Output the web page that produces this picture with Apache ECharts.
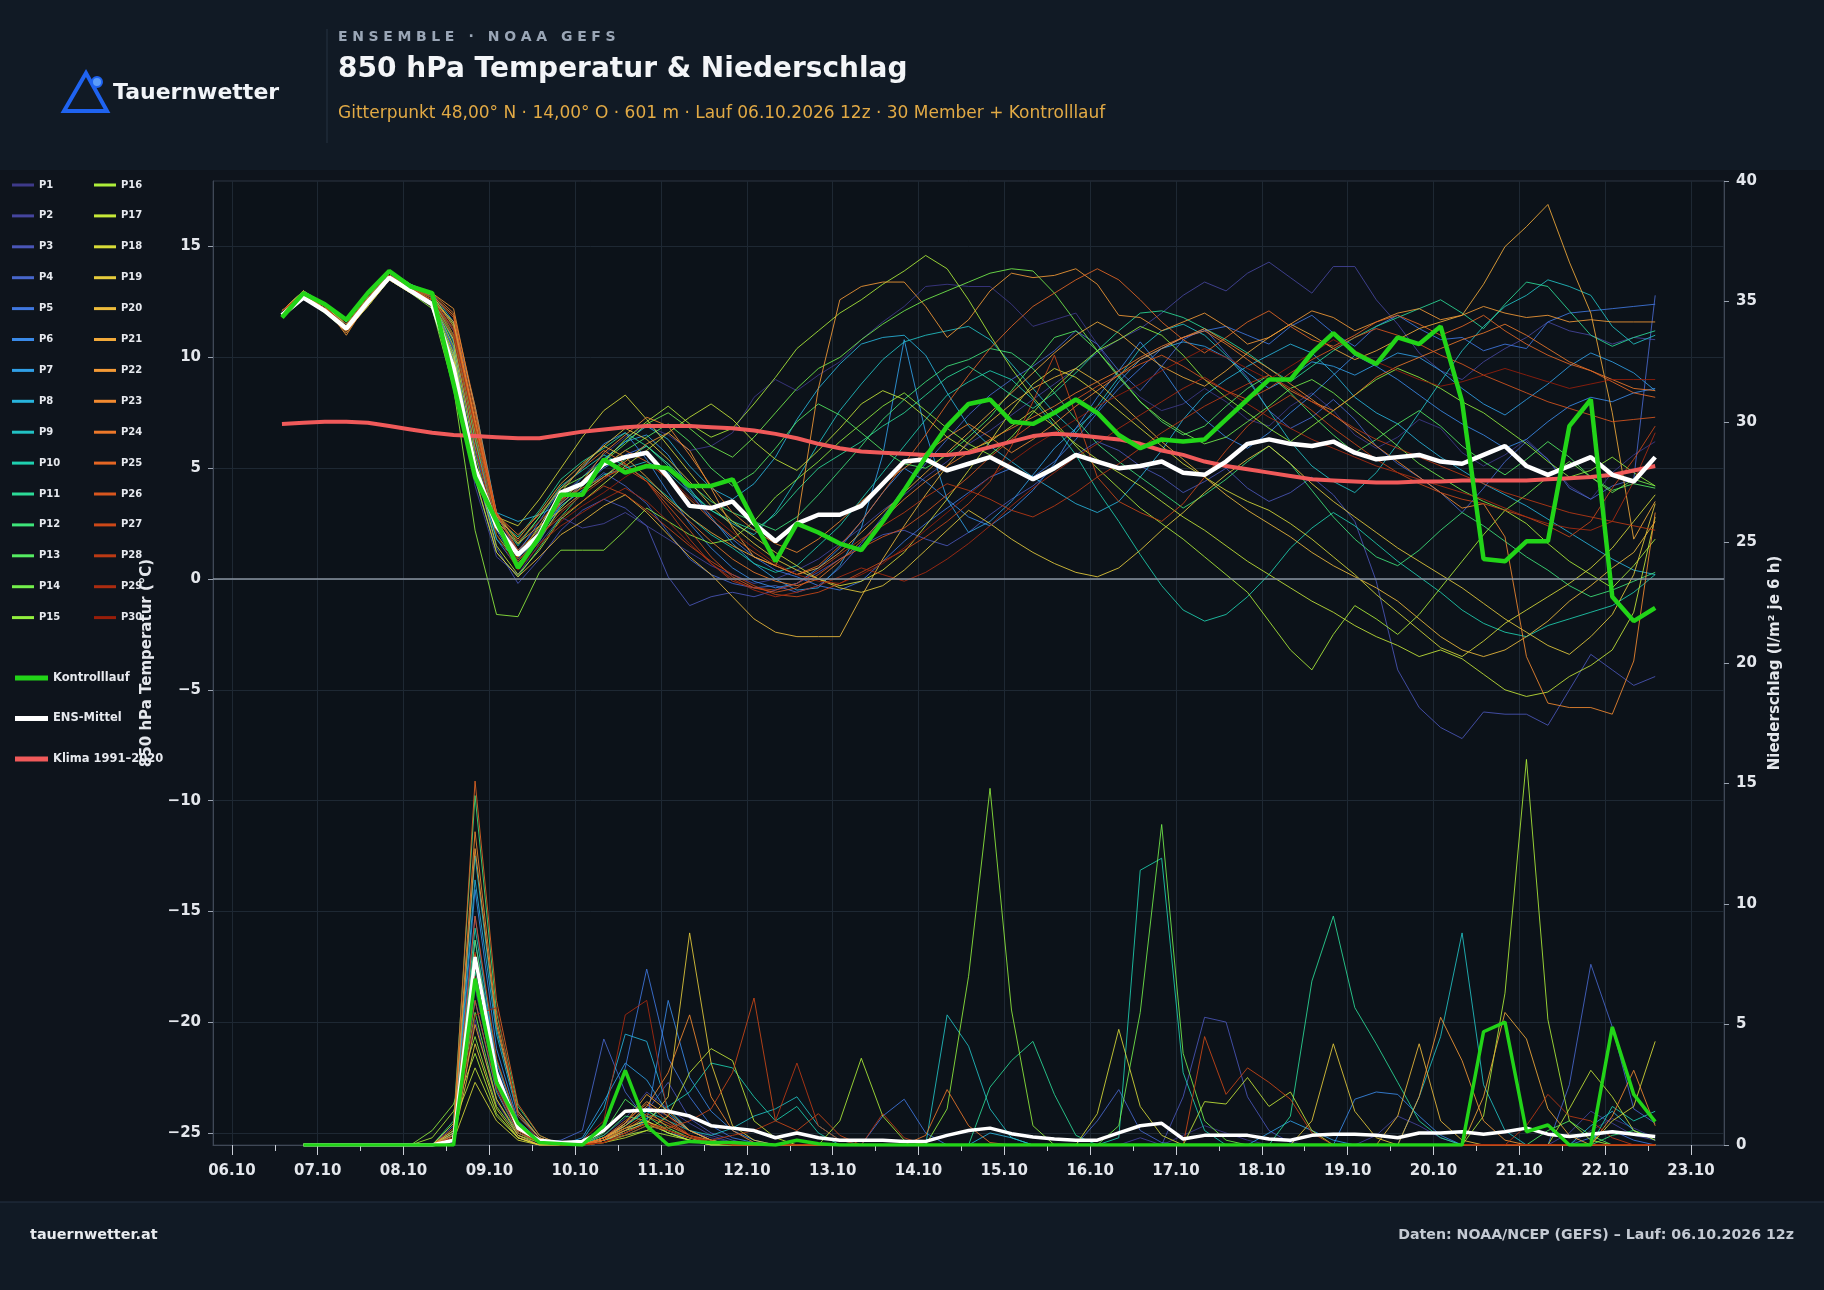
<!DOCTYPE html>
<html><head><meta charset="utf-8">
<script src="https://cdn.jsdelivr.net/npm/echarts@6/dist/echarts.min.js"></script>
<style>html,body{margin:0;padding:0;background:#0e141c;}#chart{width:1824px;height:1290px;}</style>
</head><body><div id="chart"></div>
<script>
// ---------- axes / labels ----------
const dayTicks = [0,1,2,3,4,5,6,7,8,9,10,11,12,13,14,15,16,17];
const dayLabels = ['06.10','07.10','08.10','09.10','10.10','11.10','12.10','13.10','14.10','15.10','16.10','17.10','18.10','19.10','20.10','21.10','22.10','23.10'];
const halfDayTicks = [0,0.5,1,1.5,2,2.5,3,3.5,4,4.5,5,5.5,6,6.5,7,7.5,8,8.5,9,9.5,10,10.5,11,11.5,12,12.5,13,13.5,14,14.5,15,15.5,16,16.5,17];
const tempTicks = [-25,-20,-15,-10,-5,0,5,10,15];
const memberNames = ['P1','P2','P3','P4','P5','P6','P7','P8','P9','P10','P11','P12','P13','P14','P15','P16','P17','P18','P19','P20','P21','P22','P23','P24','P25','P26','P27','P28','P29','P30'];
const memberColors = ['#3e3a8a','#45459e','#4a56b8','#4867cc','#4078e0','#3a8ae8','#309fe6','#28b4dc','#22c2c4','#1fd0b0','#2cdb98','#3ee47a','#55ec62','#74f04c','#92f03e','#aeee3a','#c6e838','#d8dc38','#e6cc3c','#eebc3c','#f2aa3a','#f49a36','#f28a30','#ec782a','#e46624','#d8561e','#cc4818','#bc3a14','#ac2c10','#981e0a'];
// time grid: 6-hourly steps from 06.10 14:00 (12z), in days since 06.10 00:00
const firstStepDay = 14/24;
const stepDays = 0.25;
const nSteps = 65;

// ---------- control, mean, climate ----------
const ctrlTemp = [11.8,12.9,12.4,11.7,12.9,13.9,13.2,12.9,8.8,4.6,2.6,0.5,1.9,
 3.8,3.8,5.4,4.8,5.1,5.0,4.2,4.2,4.5,2.6,0.8,2.5,2.1,
 1.6,1.3,2.6,4.0,5.5,6.9,7.9,8.1,7.1,7.0,7.5,8.1,7.5,
 6.5,5.9,6.3,6.2,6.3,7.2,8.1,9.0,9.0,10.2,11.1,10.2,9.7,
 10.9,10.6,11.4,8.0,0.9,0.8,1.7,1.7,6.9,8.1,-0.8,-1.9,-1.3];
const meanTemp = [11.9,12.7,12.1,11.3,12.5,13.6,13.0,12.4,9.5,5.0,2.4,1.1,2.0,
 3.9,4.3,5.2,5.5,5.7,4.6,3.3,3.2,3.5,2.5,1.7,2.5,2.9,
 2.9,3.3,4.3,5.3,5.4,4.9,5.2,5.5,5.0,4.5,5.0,5.6,5.3,
 5.0,5.1,5.3,4.8,4.7,5.3,6.1,6.3,6.1,6.0,6.2,5.7,5.4,
 5.5,5.6,5.3,5.2,5.6,6.0,5.1,4.7,5.1,5.5,4.7,4.4,5.5];
const climTemp = [7.0,7.05,7.1,7.1,7.05,6.9,6.75,6.6,6.5,6.45,6.4,6.35,6.35,
 6.5,6.65,6.75,6.85,6.9,6.9,6.9,6.85,6.8,6.7,6.55,6.35,6.1,
 5.9,5.75,5.7,5.65,5.6,5.6,5.7,5.95,6.2,6.45,6.55,6.5,6.4,
 6.3,6.1,5.8,5.6,5.3,5.1,4.95,4.8,4.65,4.5,4.45,4.4,4.35,
 4.35,4.4,4.4,4.45,4.45,4.45,4.45,4.5,4.55,4.6,4.7,4.9,5.1];
const ctrlPrec = [null,0,0,0,0,0,0,0,0,6.9,2.6,0.9,0.1,
 0.05,0,0.8,3.1,0.8,0,0.15,0.1,0.1,0.05,0,0.2,0.05,
 0,0,0,0,0,0,0,0,0,0,0,0,0,
 0,0,0,0,0,0,0,0,0,0,0,0,0,
 0,0,0,0,4.7,5.1,0.55,0.83,0,0,4.9,2.1,0.97];
const meanPrec = [null,0,0,0,0,0,0,0,0.2,7.8,3.0,0.7,0.2,
 0.1,0.15,0.6,1.4,1.45,1.4,1.2,0.8,0.7,0.6,0.3,0.5,0.3,
 0.2,0.2,0.2,0.15,0.15,0.4,0.6,0.7,0.47,0.33,0.25,0.2,0.2,
 0.5,0.8,0.9,0.25,0.4,0.4,0.4,0.25,0.2,0.4,0.45,0.45,0.4,
 0.3,0.5,0.5,0.55,0.45,0.55,0.7,0.45,0.35,0.45,0.55,0.45,0.35];

// ---------- members: 850 hPa temperature ----------
const T_P1 = [11.9,12.8,12.1,11.2,12.4,13.6,13.0,12.4,10.6,6.0,2.6,1.3,2.4, 3.8,4.6,5.6,6.4,6.9,6.5,5.8,6.0,6.6,8.2,9.0,8.5,9.2, 9.8,10.8,11.6,12.3,13.2,13.3,13.2,13.2,12.4,11.4,11.7,12.0,10.6, 9.1,8.2,7.6,7.9,8.6,8.0,7.2,6.9,7.8,8.4,7.6,6.5,5.9, 6.4,7.2,6.8,5.7,5.1,5.6,6.3,5.4,4.2,3.6,4.8,5.6,6.2];
const T_P2 = [12.1,12.9,12.3,11.4,12.7,13.8,13.1,12.5,10.0,4.2,1.0,0.2,1.6, 2.8,2.3,2.5,3.0,2.4,1.8,1.2,0.6,0.2,-0.2,0.0,0.4,0.9, 1.6,2.3,3.1,3.8,4.6,5.3,6.1,6.7,7.4,8.1,8.8,9.5,10.2, 10.8,11.3,12.0,12.8,13.4,13.0,13.8,14.3,13.6,12.9,14.1,14.1,12.6, 11.5,10.2,9.4,9.0,9.8,10.4,10.9,11.6,11.2,11.0,10.6,10.9,10.8];
const T_P3 = [12.0,12.8,12.2,11.3,12.5,13.7,13.1,12.6,10.3,5.0,1.4,-0.2,0.9, 2.2,3.1,3.6,3.2,2.4,0.1,-1.2,-0.8,-0.6,-0.8,-0.5,-0.2,0.3, 0.9,1.5,2.0,2.2,1.8,1.5,2.1,2.9,3.6,4.2,5.0,5.6,6.2, 5.8,5.1,4.6,3.9,4.4,5.0,4.1,3.5,3.9,4.6,3.8,2.6,-0.1, -4.1,-5.8,-6.7,-7.2,-6.0,-6.1,-6.1,-6.6,-5.0,-3.4,-4.1,-4.8,-4.4];
const T_P4 = [12.1,12.9,12.4,11.5,12.6,13.8,13.2,12.7,10.8,5.8,2.2,0.6,1.7, 3.3,4.0,4.8,4.2,3.4,2.1,0.9,0.2,-0.2,-0.4,-0.3,-0.6,-0.3, 0.5,1.6,2.8,4.1,5.2,6.3,7.4,8.3,9.0,9.6,10.3,11.2,10.6, 9.4,8.5,9.6,10.8,11.3,10.2,9.1,7.6,6.8,7.3,8.1,7.2,6.0, 5.2,4.6,3.9,3.0,4.1,5.3,6.2,5.4,4.1,3.6,4.2,4.5,12.8];
const T_P5 = [11.9,12.8,12.2,11.3,12.4,13.6,13.1,12.5,10.4,5.2,1.8,0.5,1.9, 3.4,4.2,5.0,5.6,6.0,5.2,3.9,2.7,1.8,1.0,0.4,0.1,-0.3, -0.5,-0.1,0.8,1.7,2.5,3.2,3.9,4.6,5.0,4.6,5.3,6.3,7.5, 8.6,9.5,10.4,10.9,11.2,11.4,11.0,10.6,11.4,11.9,11.1,10.5,11.4, 11.9,11.3,10.8,10.9,10.3,10.6,10.4,11.6,12.0,12.1,12.2,12.3,12.4];
const T_P6 = [12.0,12.9,12.3,11.5,12.6,13.7,13.2,12.7,11.2,6.6,2.9,1.2,2.6, 4.1,5.0,6.1,6.6,5.4,3.9,2.5,1.4,0.5,-0.1,-0.4,-0.2,0.5, 1.4,2.6,3.9,5.0,4.4,3.6,2.8,2.4,3.1,4.0,5.2,6.8,8.2, 9.4,10.7,9.5,8.1,7.2,6.4,5.9,6.6,7.5,8.3,9.2,10.1,9.6, 9.0,8.3,7.6,7.0,6.5,5.9,6.3,7.1,7.8,8.2,8.0,8.4,8.6];
const T_P7 = [12.0,12.8,12.2,11.3,12.5,13.6,13.0,12.5,10.9,6.2,2.5,0.9,2.2, 3.6,4.6,5.4,6.2,6.5,5.6,4.1,2.8,1.6,0.7,0.0,-0.5,-0.4, 0.6,2.3,5.6,10.8,6.6,3.6,2.1,2.6,3.5,4.7,5.9,6.8,7.6, 8.9,9.9,10.4,10.7,10.5,10.0,9.3,8.6,9.1,9.8,9.6,9.2,9.7, 10.2,10.0,9.4,8.6,7.9,7.4,8.1,8.8,9.6,10.2,9.8,9.3,8.5];
const T_P8 = [12.1,13.0,12.4,11.6,12.8,13.9,13.3,12.9,11.6,7.8,3.0,2.6,2.9, 3.4,4.3,5.4,6.2,6.9,6.3,5.1,4.1,3.6,4.3,5.5,7.2,8.6, 9.7,10.6,10.9,11.0,10.1,8.4,6.9,6.0,5.3,4.6,4.0,3.4,3.0, 3.5,4.6,5.8,7.2,8.3,9.0,9.6,10.1,10.6,10.2,9.3,8.2,7.5, 7.0,6.2,5.5,4.9,4.3,3.8,3.3,2.7,2.1,1.5,0.9,0.4,0.2];
const T_P9 = [11.9,12.8,12.1,11.3,12.4,13.6,13.0,12.4,10.1,5.0,1.8,0.8,2.0, 3.3,4.0,4.7,5.0,5.3,4.8,3.9,3.1,2.5,2.0,3.0,4.5,6.1, 7.6,8.8,9.9,10.7,11.0,11.2,11.4,10.8,9.7,8.6,7.5,6.6,7.8, 9.1,10.4,11.2,11.5,11.0,10.1,9.0,7.6,6.2,5.1,4.4,3.9,4.8, 6.1,7.5,8.9,10.3,11.4,12.3,12.8,13.5,13.2,12.8,11.4,10.6,11.0];
const T_P10 = [12.0,12.9,12.3,11.4,12.6,13.7,13.1,12.6,10.7,6.4,2.8,1.5,2.8, 4.2,4.9,5.6,5.1,4.5,3.7,2.8,2.0,1.4,0.7,0.3,0.6,1.5, 2.4,3.6,4.8,6.0,7.2,8.3,8.9,9.4,9.0,8.1,6.9,5.6,4.0, 2.6,1.1,-0.3,-1.4,-1.9,-1.6,-0.8,0.2,1.4,2.3,3.0,2.4,1.6, 0.8,0.1,-0.6,-1.4,-2.0,-2.4,-2.6,-2.1,-1.8,-1.5,-1.2,-0.6,0.2];
const T_P11 = [12.1,12.9,12.3,11.5,12.7,13.8,13.2,12.8,11.4,7.0,2.7,1.9,3.1, 4.5,5.3,5.9,6.6,6.0,5.1,4.0,3.1,2.6,2.2,2.9,4.0,5.0, 5.6,6.2,6.9,7.5,8.3,9.1,9.6,9.0,8.3,7.7,8.4,9.3,10.3, 11.2,12.0,12.1,11.8,11.3,10.8,10.2,9.5,8.9,9.6,10.3,10.9,11.4, 11.8,12.2,12.6,12.0,11.3,12.4,13.4,13.2,12.1,11.0,10.5,10.9,11.2];
const T_P12 = [11.9,12.8,12.2,11.3,12.4,13.6,13.0,12.4,9.9,4.5,1.2,0.1,1.4, 2.8,3.9,4.6,5.4,6.0,5.2,4.3,3.5,3.0,2.6,2.2,2.8,3.8, 4.9,6.0,7.2,8.1,8.9,9.6,9.9,10.4,10.2,9.5,8.4,7.2,6.1, 5.3,4.6,3.9,3.2,3.8,4.5,5.3,6.0,5.2,4.0,2.8,1.8,1.0, 0.6,1.3,2.2,3.0,2.4,1.7,1.0,0.4,-0.3,-0.8,-0.5,-0.1,0.3];
const T_P13 = [12.0,12.9,12.4,11.5,12.7,13.8,13.2,12.7,10.9,6.3,2.6,1.1,2.3, 3.6,4.4,5.1,5.8,6.4,7.0,6.2,5.0,4.2,4.8,5.9,7.1,7.9, 7.4,6.6,5.8,5.2,5.0,5.6,6.4,7.3,8.5,9.7,10.9,11.2,10.3, 9.2,8.0,7.1,6.5,6.9,7.8,8.6,9.2,8.4,7.4,6.5,5.7,6.3, 7.0,7.6,6.9,6.0,5.3,4.7,5.4,6.2,5.5,4.6,4.0,4.3,4.1];
const T_P14 = [12.1,13.0,12.4,11.6,12.8,13.9,13.3,12.8,11.0,6.6,3.0,1.6,2.8, 4.1,4.6,5.3,6.1,7.0,7.5,6.8,6.0,5.5,6.4,7.5,8.6,9.5, 10.0,10.8,11.5,12.1,12.6,13.0,13.4,13.8,14.0,13.9,12.9,11.6,10.3, 9.1,8.0,7.2,6.6,6.1,6.4,7.1,7.8,8.6,9.0,8.4,7.6,6.8, 6.0,5.2,4.6,4.0,3.5,3.1,3.8,4.6,5.3,4.6,3.9,4.5,4.2];
const T_P15 = [11.8,12.7,12.0,11.2,12.3,13.5,12.9,12.2,8.6,2.2,-1.6,-1.7,0.3, 1.3,1.3,1.3,2.2,3.2,2.6,2.0,1.6,1.8,2.6,3.7,4.5,5.3, 6.2,7.0,7.8,8.4,7.6,6.8,6.1,5.6,6.4,7.5,8.6,9.5,10.3, 10.8,11.4,11.0,10.1,9.0,8.2,7.5,6.8,6.2,6.9,7.6,8.3,9.0, 9.5,9.1,8.6,8.0,7.5,6.8,6.1,5.3,4.6,4.9,5.5,4.8,4.2];
const T_P16 = [12.0,12.9,12.3,11.4,12.6,13.7,13.1,12.6,10.5,5.6,2.0,0.7,1.8, 3.2,4.2,5.3,6.3,7.1,7.8,7.0,6.4,6.8,7.9,9.1,10.4,11.2, 12.0,12.6,13.3,13.9,14.6,14.0,12.6,11.0,9.5,8.2,7.1,6.0,5.0, 4.1,3.2,2.5,1.8,1.0,0.2,-0.6,-1.9,-3.2,-4.1,-2.5,-1.2,-1.8, -2.5,-1.6,-0.4,0.8,2.0,3.1,2.5,1.6,0.8,0.2,-0.4,0.6,1.8];
const T_P17 = [11.9,12.8,12.2,11.3,12.5,13.6,13.0,12.5,10.2,5.1,1.5,0.2,1.3, 2.7,3.5,4.3,5.1,5.8,6.6,7.3,7.9,7.2,6.2,5.4,4.9,5.8, 6.8,7.9,8.5,8.1,7.3,6.4,5.8,6.2,6.9,7.6,6.9,6.1,5.4, 4.8,4.2,3.5,2.8,2.2,1.5,0.8,0.2,-0.4,-1.0,-1.5,-2.1,-2.6, -3.0,-3.5,-3.2,-3.6,-4.3,-5.0,-5.3,-5.1,-4.4,-3.9,-3.2,-1.5,2.8];
const T_P18 = [12.1,13.0,12.3,11.5,12.7,13.8,13.2,12.8,11.5,6.8,2.8,2.4,3.6, 5.0,6.4,7.6,8.3,7.2,6.0,4.8,3.6,2.6,1.9,1.2,0.6,0.0, -0.3,-0.1,0.4,1.2,2.4,3.6,4.9,6.2,7.6,8.8,9.5,9.1,8.4, 7.6,6.8,6.0,5.2,4.6,4.0,3.5,3.1,2.5,1.8,1.0,0.2,-0.7, -1.5,-2.3,-3.1,-3.5,-2.8,-2.0,-1.4,-0.8,-0.2,0.5,1.4,2.6,3.8];
const T_P19 = [12.0,12.9,12.2,11.4,12.6,13.7,13.1,12.6,10.8,6.0,2.3,1.0,2.4, 3.9,5.1,6.0,6.8,6.3,5.4,4.4,3.3,2.4,1.6,0.9,0.4,0.0, -0.4,-0.6,-0.3,0.4,1.3,2.2,3.1,2.5,1.8,1.2,0.7,0.3,0.1, 0.5,1.3,2.2,3.0,3.9,4.7,5.4,6.0,5.2,4.3,3.5,2.8,2.1, 1.4,0.8,0.2,-0.4,-1.1,-1.8,-2.4,-3.0,-3.4,-2.6,-1.6,0.2,3.4];
const T_P20 = [11.9,12.8,12.1,11.2,12.3,13.5,12.9,12.4,10.0,4.6,1.2,0.1,1.0, 2.0,2.6,3.3,3.8,3.0,2.0,1.0,0.2,-0.8,-1.8,-2.4,-2.6,-2.6, -2.6,-0.8,0.9,2.4,3.8,5.1,6.2,7.1,7.9,8.6,9.1,9.5,8.9, 8.0,7.1,6.2,5.4,4.6,3.8,3.1,2.5,1.9,1.2,0.6,0.1,-0.4, -1.0,-1.8,-2.6,-3.2,-3.5,-3.2,-2.6,-1.9,-1.0,-0.3,0.5,1.2,2.6];
const T_P21 = [12.0,12.8,12.2,11.2,12.4,13.5,13.0,12.6,11.6,7.2,2.8,1.8,3.0, 4.3,5.2,6.0,5.5,4.6,3.6,2.8,2.1,1.5,1.0,0.6,0.2,0.5, 1.2,2.1,3.0,3.9,4.8,5.7,6.6,7.5,8.4,9.3,10.2,11.0,11.6, 11.1,10.3,9.6,9.1,8.7,9.4,10.2,10.9,11.5,11.0,10.4,9.9,10.3, 10.8,11.3,11.6,11.9,13.3,15.0,15.9,16.9,14.3,12.0,7.5,1.8,3.5];
const T_P22 = [12.1,12.9,12.3,11.0,12.5,13.6,13.2,12.9,12.2,7.6,2.6,1.6,2.4, 3.1,3.9,4.6,5.3,6.1,6.6,5.8,4.1,2.3,1.0,0.6,2.5,8.6, 12.6,13.2,13.4,13.4,12.3,10.9,11.7,13.0,13.8,13.6,13.7,14.0,13.3, 11.9,11.8,11.2,11.6,12.0,11.4,10.6,10.9,11.5,12.1,11.8,11.2,11.6, 12.0,12.2,11.7,11.9,12.3,12.0,11.8,11.9,11.6,11.7,11.6,11.6,11.6];
const T_P23 = [12.0,12.8,12.2,11.1,12.4,13.5,13.1,12.8,11.9,7.0,2.7,1.0,2.1, 3.5,4.4,5.7,6.5,7.3,6.9,5.6,4.2,3.0,2.2,1.6,1.2,1.8, 2.6,3.5,4.3,5.0,5.7,6.4,7.0,6.4,5.7,6.3,7.0,7.8,8.5, 9.2,9.9,10.4,10.9,11.3,10.7,10.1,9.5,8.8,8.1,7.4,6.7,6.0, 5.3,4.6,3.9,3.2,3.4,1.9,-3.5,-5.6,-5.8,-5.8,-6.1,-3.7,3.0];
const T_P24 = [12.1,13.0,12.3,11.2,12.6,13.7,13.2,12.9,12.0,7.8,2.9,2.0,2.9, 4.1,5.0,5.8,5.2,4.4,3.5,2.6,1.7,0.9,0.3,-0.1,-0.3,0.0, 0.8,1.7,2.7,3.6,4.4,5.1,5.7,6.3,6.8,7.3,7.8,8.4,8.9, 9.4,10.0,10.5,10.9,11.2,10.6,9.9,9.2,8.5,8.0,7.6,8.3,9.1, 9.6,10.0,10.4,10.8,11.1,11.5,11.0,10.4,9.8,9.4,9.0,8.6,8.5];
const T_P25 = [12.0,12.9,12.2,11.3,12.5,13.6,13.1,12.7,11.4,7.1,3.0,1.3,2.2, 3.4,4.3,5.1,5.8,5.3,4.5,3.6,2.7,1.9,1.2,0.6,0.2,0.6, 1.5,2.6,3.9,5.2,6.5,7.9,9.2,10.4,11.4,12.3,12.9,13.5,14.0, 13.5,12.6,11.6,10.8,10.2,10.9,11.6,12.1,11.4,10.8,10.5,11.0,11.6, 11.9,11.5,11.0,11.4,11.9,11.2,10.6,10.1,9.7,9.4,8.9,8.4,8.2];
const T_P26 = [12.1,12.9,12.3,11.4,12.6,13.7,13.2,12.8,11.8,7.4,3.0,1.7,2.6, 3.6,4.1,4.6,5.0,4.4,3.3,2.2,1.0,0.1,-0.4,-0.6,-0.4,0.2, 0.9,1.4,1.9,2.3,3.0,3.8,4.6,5.5,6.3,7.0,7.6,8.1,8.7, 9.2,9.7,10.1,9.6,9.0,8.5,8.1,8.6,9.3,9.9,10.4,10.9,11.3, 11.0,10.6,10.1,9.7,9.2,8.8,8.4,8.0,7.7,7.4,7.1,7.2,7.3];
const T_P27 = [12.0,12.8,12.2,11.3,12.4,13.6,13.0,12.6,11.3,6.9,2.9,1.2,2.0, 2.8,3.5,4.2,3.8,3.1,2.3,1.5,0.8,0.2,-0.3,-0.7,-0.8,-0.6, -0.2,0.3,0.8,1.3,1.9,2.6,3.4,4.4,6.0,8.0,10.1,7.4,4.6, 3.5,3.0,2.6,3.4,4.6,5.8,6.9,7.7,8.3,7.6,6.8,6.1,5.4, 4.8,4.3,3.9,3.6,3.4,3.1,2.8,2.4,1.9,2.6,4.1,5.4,6.9];
const T_P28 = [12.1,12.9,12.4,11.5,12.7,13.8,13.2,12.7,11.0,6.5,2.4,0.8,1.9, 3.0,3.8,4.5,5.2,4.4,3.1,1.8,0.7,-0.1,-0.4,-0.5,-0.2,0.4, 1.1,1.8,2.4,3.0,3.7,4.3,4.0,3.6,3.1,2.8,3.3,3.9,4.6, 5.2,5.9,6.6,7.2,7.8,8.3,8.8,9.2,8.6,8.0,7.4,6.8,6.3, 5.9,5.5,5.1,4.7,4.3,3.9,3.6,3.3,3.0,2.8,2.6,2.4,2.2];
const T_P29 = [12.0,12.9,12.3,11.4,12.5,13.7,13.1,12.6,11.2,6.8,2.6,0.9,1.6, 2.4,3.0,3.6,4.1,3.5,2.6,1.6,0.7,0.0,-0.5,-0.8,-0.6,-0.3, 0.1,0.5,0.2,-0.1,0.3,0.9,1.6,2.4,3.3,4.1,4.8,5.5,6.1, 6.8,7.4,8.0,8.6,9.1,8.5,7.9,7.3,6.8,6.3,5.9,5.5,5.1, 4.8,4.5,4.2,3.9,3.6,3.2,2.8,2.5,2.3,2.2,2.6,4.4,6.6];
const T_P30 = [11.9,12.8,12.1,11.3,12.4,13.5,13.0,12.5,10.9,6.1,2.0,0.4,1.5, 2.6,3.3,3.9,4.6,5.2,4.6,3.7,2.9,2.1,1.4,0.7,0.2,-0.1, -0.2,0.2,0.7,1.4,2.2,3.0,3.8,4.6,5.3,6.0,6.6,7.2,7.8, 8.3,8.8,9.4,9.9,10.4,10.0,9.5,9.0,9.6,10.2,10.8,10.3,9.8, 9.4,9.0,8.7,8.9,9.2,9.5,9.2,8.9,8.6,8.8,9.0,9.0,9.0];

// ---------- members: precipitation (l/m² per 6 h) ----------
const R_P1 = [null,0,0,0,0,0,0,0,0.3,6.5,2.4,0.6,0.1, 0,0,0.2,0.8,1.6,1.2,0.6,0.3,0.1,0,0,0,0, 0,0,0,0,0,0,0,0,0,0,0,0,0, 0,0,0,0.4,0.8,0.5,0.2,0,0,0,0,0,0, 0,0,0,0,0,0,0,0,0,0.6,1.1,0.7,0.3];
const R_P2 = [null,0,0,0,0,0,0,0,0.1,5.2,1.8,0.4,0, 0,0.1,0.4,1.1,2.2,1.5,0.9,0.4,0.1,0,0,0,0, 0,0,0,0,0,0,0,0,0,0,0,0,0, 0,0.3,0,0,0,0,0,0,0,0,0,0,0.4, 1.2,0.8,0.3,0,0,0,0,0,0.5,1.4,0.9,0.4,0.2];
const R_P3 = [null,0,0,0,0,0,0,0,0.8,9.5,3.2,0.8,0.2, 0,0,0.3,0.9,1.4,2.6,1.1,0.5,0.2,0,0,0,0, 0,0,0,0,0,0,0,0,0,0,0,0,0, 0,0,0,2.0,5.3,5.1,2.0,0.6,0.1,0,0,0,0, 0,0,0,0,0,0,0,0,0,0,0,0,0];
const R_P4 = [null,0,0,0,0,0,0,0,0.2,7.9,2.9,0.7,0.1, 0.2,0.6,4.4,2.2,1.0,0.5,0.3,0.1,0,0,0,0,0, 0,0,0,0,0,0,0,0,0,0,0,0,1.0, 2.3,0.6,0.1,0,0,0,0,0,0,0,0,0,0, 0,0,0,0,0,0,0,0,2.5,7.5,4.9,1.5,0.9];
const R_P5 = [null,0,0,0,0,0,0,0,0.4,8.5,3.4,0.9,0.2, 0,0.1,0.6,3.2,7.3,3.6,2.0,0.8,0.3,0.1,0,0,0, 0,0,1.2,1.9,0.5,0,0,0,0,0,0,0,0, 0,0,0,0,0,0,0,0,0,0,0,0,0, 0,0,0,0,0,0,0,0,0,0.3,0.6,0.2,0];
const R_P6 = [null,0,0,0,0,0,0,0,0.3,10.6,4.0,1.0,0.2, 0,0,0.2,0.5,1.0,6.0,2.8,1.4,0.6,0.2,0,0,0, 0,0,0,0,0,0,0,0,0,0,0,0,0, 0,0,0,0,0,0,0,0,0,0,0,1.9,2.2, 2.1,1.2,0.4,0,0,0,0,0,0,0,0,0,0];
const R_P7 = [null,0,0,0,0,0,0,0,0.2,6.0,2.2,0.5,0.1, 0,0.3,1.8,3.4,2.7,1.3,0.6,0.2,0,0,0,0,0, 0,0,0,0,0,0,0,0,0,0,0,0,0, 0,0,0,0,0,0,0,0.5,1.0,0.6,0.2,0,0, 0,0,0,0,0,0,0,0,0,0,0,0,0];
const R_P8 = [null,0,0,0,0,0,0,0,0.5,11.0,4.6,1.2,0.3, 0,0.2,1.5,4.6,4.3,1.5,0.6,0.2,0,0,0,0,0, 0,0,0,0,0,0,0,0.5,0.3,0,0,0,0, 0,0,0,0,0,0,0,0,0,0,0,0,0, 0,0,0,0,0,0,0,0,0,0.8,1.4,0.6,0.2];
const R_P9 = [null,0,0,0,0,0,0,0,0.4,12.0,4.8,1.4,0.3, 0,0,0.3,0.8,1.4,1.0,0.6,0.4,0.7,1.2,1.5,2.0,0.8, 0.2,0,0,0,0,5.4,4.1,1.5,0.3,0,0,0,0, 0,0,0,0,0,0,0,0,0,0,0,0,0, 0,2.0,4.5,8.8,2.5,0.6,0,0,0,0,0,0,0];
const R_P10 = [null,0,0,0,0,0,0,0,0.6,9.0,3.5,0.9,0.2, 0,0,0.2,0.6,1.1,1.6,2.2,3.4,3.2,2.0,1.0,1.6,0.5, 0,0,0,0,0,0,0,0,0,0,0,0,0, 0.3,11.4,11.9,3.0,0.6,0,0,0,0,0,0,0,0, 0,0,0,0,0,0,0,0,0,0,1.6,1.0,1.4];
const R_P11 = [null,0,0,0,0,0,0,0,0.3,7.2,2.6,0.6,0.1, 0,0,0.2,0.4,0.8,0.6,0.3,0.1,0,0,0,0,0, 0,0,0,0,0,0,0,2.4,3.5,4.3,2.1,0.4,0, 0,0,0,0,0,0,0,0,1.2,6.8,9.5,5.7,4.2, 2.6,1.0,0.3,0,0,0,0,0,0,0,0,0,0];
const R_P12 = [null,0,0,0,0,0,0,0,1.0,14.5,5.5,1.6,0.4, 0,0,0.4,1.2,1.0,0.5,0.2,0,0,0,0,0,0, 0,0,0,0,0,0,0,0,0,0,0,0,0, 0,0,0,0,0,0,0,0,0,0,0,0,0, 0,0,0,0,0,0,0,0,0,0,0.4,0.6,0.3];
const R_P13 = [null,0,0,0,0,0,0,0,0.5,8.5,3.0,0.7,0.1, 0,0,0.5,1.9,1.2,0.6,0.3,0.1,0,0,0,0,0, 0,0,0,0,0,0,0,0,0,0,0,0,0, 0,0,0,0,0,0,0,0,0,0,0,0,0, 0,0,0,0,0,0,0,0.6,1.0,0.4,0,0,0];
const R_P14 = [null,0,0,0,0,0,0,0,0.6,5.5,1.9,0.5,0.1, 0,0,0.3,0.8,1.5,0.7,0.3,0,0,0,0,0,0, 0,0,0,0,0,0,0,0,0,0,0,0,0, 0.8,5.5,13.3,3.8,1.0,0.2,0,0,0,0,0,0,0, 0,0,0,0,0,0,0,0,0,0,0,0,0];
const R_P15 = [null,0,0,0,0,0,0,0.6,1.7,4.5,1.6,0.4,0.1, 0,0,0.2,0.7,1.0,0.5,0.2,0,0,0,0,0,0, 0,0,0,0,0,1.5,7.0,14.8,5.6,0.8,0,0,0, 0,0,0,0,0,0,0,0,0,0,0,0,0, 0,0,0,0,0,0,0,0,0,0,0,0,0];
const R_P16 = [null,0,0,0,0,0,0,0.3,1.4,3.8,1.3,0.3,0, 0,0,0.1,0.4,0.6,0.4,0.2,0,0,0,0,0,0, 1.0,3.6,1.2,0.2,0,0,0,0,0,0,0,0,0, 0,0,0,0,0,0,0,0,0,0,0,0,0, 0,0,0,0,1.2,6.3,16.0,5.2,1.0,0.2,0,0,0];
const R_P17 = [null,0,0,0,0,0,0,0,0.9,3.2,1.2,0.3,0, 0,0,0.1,0.3,0.6,1.2,3.0,4.0,3.5,1.0,0.3,0,0, 0,0,0,0,0,0,0,0,0,0,0,0,0, 0,0,0,0,1.8,1.7,2.8,1.6,2.2,0.6,0,0,0, 0,0,0,0,0,0,0,0,1.5,3.1,2.0,0.6,0.2];
const R_P18 = [null,0,0,0,0,0,0,0,0.2,2.6,1.0,0.2,0, 0,0,0.2,0.6,0.9,0.5,0.2,0,0,0,0,0,0, 0,0,0,0,0,0,0,0,0,0,0,0,1.3, 4.8,1.6,0.4,0,0,0,0,0,0,0,0,0,0, 0,0,0,0,0,0,0,0,0,0,1.0,1.6,4.3];
const R_P19 = [null,0,0,0,0,0,0,0,0.3,4.2,1.5,0.3,0, 0,0,0.2,0.5,0.9,2.0,8.8,3.4,0.8,0.2,0,0,0, 0,0,0,0,0,0,0,0,0,0,0,0,0, 0,0,0,0,0,0,0,0,0,1.0,4.2,1.4,0.3, 0,0,0,0,0,0,0,0,0,0,0,0,0];
const R_P20 = [null,0,0,0,0,0,0,0,0.4,7.9,2.7,0.6,0.1, 0,0,0.3,0.7,1.0,0.6,0.3,0.1,0,0,0,0,0, 0,0,0,0,0,0,0,0,0,0,0,0,0, 0,0,0,0,0,0,0,0,0,0,0,0,0, 1.2,4.2,1.0,0.2,0,0,0,0,0,0,0,0,0];
const R_P21 = [null,0,0,0,0,0,0,0,0.2,5.0,1.9,0.4,0, 0,0,0.2,0.9,2.1,1.4,0.6,0.2,0,0,0,0,0, 0,0,0,0,0,0,0,0,0,0,0,0,0, 0,0,0,0,0,0,0,0,0,0,0,0,0, 0,0,0,0,2.0,5.5,4.4,1.5,0.4,0,0,0,0];
const R_P22 = [null,0,0,0,0,0,0,0,0.5,12.3,5.0,1.3,0.3, 0,0,0.3,0.9,1.8,1.2,0.6,0.2,0,0,0,0,0, 0,0,0,0,0,0,0,0,0,0,0,0,0, 0,0,0,0,0,0,0,0,0,0,0,0,0, 0,2.0,5.3,3.5,1.0,0.2,0,0,0,0,0,0,0];
const R_P23 = [null,0,0,0,0,0,0,0,0.6,13.0,5.2,1.4,0.3, 0,0,0.3,0.8,1.6,3.0,5.4,2.0,0.6,0.1,0,0,0, 0,0,0,0,0,0,0,0,0,0,0,0,0, 0,0,0,0,0,0,0,0,0,0,0,0,0, 0,0,0,0,0,0,0,0,0,0,1.2,3.1,0.8];
const R_P24 = [null,0,0,0,0,0,0,0,0.3,6.8,2.5,0.6,0.1, 0,0,0.2,0.6,1.2,0.8,0.4,0.2,0,0,0,0,0, 0,0,0,0,0.4,2.3,0.8,0.1,0,0,0,0,0, 0,0,0,0,0,0,0,0,0,0,0,0,0, 0,0,0,0,0,0,0,0,0,0,0,0,0];
const R_P25 = [null,0,0,0,0,0,0,0,0.7,15.1,6.0,1.7,0.4, 0,0,0.3,1.0,1.7,1.0,0.4,0.1,0,0,0,0,0, 0,0,0,0,0,0,0,0,0,0,0,0,0, 0,0,0,0,0,0,0,0,0,0,0,0,0, 0,0,0,0,0,0,0,0,0,0,0,0,0];
const R_P26 = [null,0,0,0,0,0,0,0,0.4,9.5,3.6,0.9,0.2, 0,0,0.2,0.7,1.3,0.9,0.4,0.1,0,0,0,0,0, 0,0,0,0,0,0,0,0,0,0,0,0,0, 0,0,0,0,0,0,0,0,0,0,0,0,0, 0,0,0,0,0,0,0,0,0,0,0,0,0];
const R_P27 = [null,0,0,0,0,0,0,0,0.3,6.0,2.3,0.5,0.1, 0,0,0.1,0.5,0.9,0.7,1.0,1.5,3.0,6.1,1.0,0.6,1.3, 0.4,0,0,0,0,0,0,0,0,0,0,0,0, 0,0,0,0,4.5,2.1,3.2,2.6,1.9,0.5,0,0,0, 0,0,0,0,0,0,0,0,0,0,0,0,0];
const R_P28 = [null,0,0,0,0,0,0,0,0.3,8.0,3.0,0.7,0.1, 0,0,0.1,0.4,0.8,0.6,0.3,0.2,0.4,0.6,1.0,3.4,0.8, 0.2,0,1.3,0.3,0,0,0,0,0,0,0,0,0, 0,0,0,0,0,0,0,0,0,0,0,0,0, 0,0,0,0,0,0,0.8,2.1,1.2,1.0,0.3,0,0];
const R_P29 = [null,0,0,0,0,0,0,0,0.2,5.4,5.7,1.2,0.2, 0,0.2,1.0,5.4,6.0,1.2,0.4,0.1,0,0,0,0,0, 0,0,0,0,0,0,0,0,0,0,0,0,0, 0,0,0,0,0,0,0,0,0,0,0,0,0, 0,0,0,0,0,0,0,0,0,0,0,0,0];
const R_P30 = [null,0,0,0,0,0,0,0,0.3,7.0,2.8,0.6,0.1, 0,0,0.1,0.5,0.9,0.6,0.3,0.1,0,0,0,0,0, 0,0,0,0,0,0,0,0,0,0,0,0,0, 0,0,0,0,0,0,0,0,0,0,0,0,0, 0,0,0,0,0,0,0,0,0,0,0,0,0];

const tempMembers = [T_P1,T_P2,T_P3,T_P4,T_P5,T_P6,T_P7,T_P8,T_P9,T_P10,T_P11,T_P12,T_P13,T_P14,T_P15,T_P16,T_P17,T_P18,T_P19,T_P20,T_P21,T_P22,T_P23,T_P24,T_P25,T_P26,T_P27,T_P28,T_P29,T_P30];
const precMembers = [R_P1,R_P2,R_P3,R_P4,R_P5,R_P6,R_P7,R_P8,R_P9,R_P10,R_P11,R_P12,R_P13,R_P14,R_P15,R_P16,R_P17,R_P18,R_P19,R_P20,R_P21,R_P22,R_P23,R_P24,R_P25,R_P26,R_P27,R_P28,R_P29,R_P30];

// ---------- build ----------
const times = [];
for (let i = 0; i < nSteps; i++) times.push(firstStepDay + i * stepDays);
const pair = arr => arr.map((v, i) => [times[i], v]);

const FONT = 'DejaVu Sans';
const C_CTRL = '#22d418', C_MEAN = '#ffffff', C_CLIM = '#f05a5a';
const series = [];
memberNames.forEach((name, k) => {
  const base = {name, type: 'line', symbol: 'none', silent: true, animation: false, z: 2,
    itemStyle: {color: memberColors[k]}, lineStyle: {width: 1, color: memberColors[k], opacity: 0.85}};
  series.push(Object.assign({}, base, {xAxisIndex: 0, yAxisIndex: 0, data: pair(tempMembers[k])}));
  series.push(Object.assign({}, base, {xAxisIndex: 0, yAxisIndex: 1, data: pair(precMembers[k])}));
});
series.push({name: 'Klima 1991–2020', type: 'line', symbol: 'none', silent: true, z: 3, xAxisIndex: 0, yAxisIndex: 0,
  itemStyle: {color: C_CLIM}, lineStyle: {width: 4, color: C_CLIM}, data: pair(climTemp),
  markLine: {silent: true, symbol: 'none', label: {show: false}, lineStyle: {color: '#8a94a2', width: 1.5, type: 'solid'}, data: [{yAxis: 0}]}});
series.push({name: 'ENS-Mittel', type: 'line', symbol: 'none', silent: true, z: 4, xAxisIndex: 0, yAxisIndex: 0,
  itemStyle: {color: C_MEAN}, lineStyle: {width: 4.5, color: C_MEAN}, data: pair(meanTemp)});
series.push({name: 'ENS-Mittel', type: 'line', symbol: 'none', silent: true, z: 4, xAxisIndex: 0, yAxisIndex: 1,
  itemStyle: {color: C_MEAN}, lineStyle: {width: 3.5, color: C_MEAN}, data: pair(meanPrec)});
series.push({name: 'Kontrolllauf', type: 'line', symbol: 'none', silent: true, z: 5, xAxisIndex: 0, yAxisIndex: 0,
  itemStyle: {color: C_CTRL}, lineStyle: {width: 4.5, color: C_CTRL}, data: pair(ctrlTemp)});
series.push({name: 'Kontrolllauf', type: 'line', symbol: 'none', silent: true, z: 5, xAxisIndex: 0, yAxisIndex: 1,
  itemStyle: {color: C_CTRL}, lineStyle: {width: 3.5, color: C_CTRL}, data: pair(ctrlPrec)});

const labelStyle = {color: '#e4e7ec', fontFamily: FONT, fontWeight: 'bold', fontSize: 15};
const axisLineStyle = {color: '#3f4856', width: 1};
const gridLineStyle = {color: '#1e2833', width: 1};
const legendText = size => ({color: '#e6e9ee', fontFamily: FONT, fontWeight: 'bold', fontSize: size, lineHeight: 14});
const spaced = s => s.split('').join('\u2004');

const option = {
  backgroundColor: '#0e141c',
  animation: false,
  textStyle: {fontFamily: FONT},
  grid: {left: 213, right: 100, top: 181, bottom: 145, show: true, backgroundColor: '#0c1219', borderColor: '#2c3542', borderWidth: 1},
  xAxis: [
    {type: 'value', min: -0.22, max: 17.385, position: 'bottom',
      axisLine: {show: true, onZero: false, lineStyle: axisLineStyle},
      axisTick: {show: true, length: 10, customValues: dayTicks, lineStyle: {color: '#c9ced6'}},
      axisLabel: Object.assign({customValues: dayTicks, margin: 19, formatter: v => dayLabels[Math.round(v)]}, labelStyle),
      splitLine: {show: true, lineStyle: gridLineStyle}},
    {type: 'value', min: -0.22, max: 17.385, position: 'bottom',
      axisLine: {show: false, onZero: false},
      axisTick: {show: true, length: 6, customValues: halfDayTicks, lineStyle: {color: '#c9ced6'}},
      axisLabel: {show: false}, splitLine: {show: false}}
  ],
  yAxis: [
    {type: 'value', min: -25.54, max: 17.96, position: 'left',
      name: '850 hPa Temperatur (°C)', nameLocation: 'middle', nameGap: 58, nameRotate: 90,
      nameTextStyle: {color: '#e4e7ec', fontFamily: FONT, fontWeight: 'bold', fontSize: 15},
      axisLine: {show: true, onZero: false, lineStyle: axisLineStyle},
      axisTick: {show: true, length: 5, customValues: tempTicks, lineStyle: {color: '#9aa3b0'}},
      axisLabel: Object.assign({customValues: tempTicks, margin: 12, formatter: v => (v < 0 ? '\u2212' + Math.abs(v) : String(v))}, labelStyle),
      splitLine: {show: true, lineStyle: gridLineStyle}},
    {type: 'value', min: 0, max: 40, interval: 5, position: 'right',
      name: 'Niederschlag (l/m² je 6 h)', nameLocation: 'middle', nameGap: 41, nameRotate: 90,
      nameTextStyle: {color: '#e4e7ec', fontFamily: FONT, fontWeight: 'bold', fontSize: 15},
      axisLine: {show: true, onZero: false, lineStyle: axisLineStyle},
      axisTick: {show: true, length: 5, lineStyle: {color: '#9aa3b0'}},
      axisLabel: Object.assign({margin: 12}, labelStyle),
      splitLine: {show: false}}
  ],
  legend: [
    {data: memberNames.slice(0, 15), orient: 'vertical', left: 12, top: 178, padding: 0, icon: 'rect',
      itemWidth: 22, itemHeight: 3, itemGap: 16.9, selectedMode: false, textStyle: legendText(10)},
    {data: memberNames.slice(15), orient: 'vertical', left: 94, top: 178, padding: 0, icon: 'rect',
      itemWidth: 22, itemHeight: 3, itemGap: 16.9, selectedMode: false, textStyle: legendText(10)},
    {data: ['Kontrolllauf', 'ENS-Mittel', 'Klima 1991–2020'], orient: 'vertical', left: 15, top: 671, padding: 0, icon: 'rect',
      itemWidth: 33, itemHeight: 5, itemGap: 26.5, selectedMode: false, textStyle: legendText(11.5)}
  ],
  graphic: [
    {type: 'rect', silent: true, z: -10, shape: {x: 0, y: 0, width: 1824, height: 170}, style: {fill: '#111a25'}},
    {type: 'rect', silent: true, z: -10, shape: {x: 0, y: 1202, width: 1824, height: 88}, style: {fill: '#111a25'}},
    {type: 'line', silent: true, shape: {x1: 0, y1: 1202, x2: 1824, y2: 1202}, style: {stroke: '#243142', lineWidth: 1}},
    {type: 'line', silent: true, shape: {x1: 327, y1: 29, x2: 327, y2: 143}, style: {stroke: '#263242', lineWidth: 1}},
    {type: 'polygon', silent: true, shape: {points: [[64, 111], [86, 73], [107, 111]]}, style: {fill: 'none', stroke: '#1f63f0', lineWidth: 4}},
    {type: 'circle', silent: true, shape: {cx: 97, cy: 82, r: 5}, style: {fill: '#5b9cf8', stroke: '#1f63f0', lineWidth: 2}},
    {type: 'text', silent: true, x: 113, y: 93, style: {text: 'Tauernwetter', font: 'bold 22px "DejaVu Sans"', fill: '#f1f4f8', verticalAlign: 'middle'}},
    {type: 'text', silent: true, x: 338, y: 37, style: {text: spaced('ENSEMBLE · NOAA GEFS'), font: 'bold 14px "DejaVu Sans"', fill: '#9aa6b6', verticalAlign: 'middle'}},
    {type: 'text', silent: true, x: 338, y: 70, style: {text: '850 hPa Temperatur & Niederschlag', font: 'bold 28px "DejaVu Sans"', fill: '#f3f5f8', verticalAlign: 'middle'}},
    {type: 'text', silent: true, x: 338, y: 114, style: {text: 'Gitterpunkt 48,00° N · 14,00° O · 601 m · Lauf 06.10.2026 12z · 30 Member + Kontrolllauf', font: '17px "DejaVu Sans"', fill: '#e2aa45', verticalAlign: 'middle'}},
    {type: 'text', silent: true, x: 30, y: 1235, style: {text: 'tauernwetter.at', font: 'bold 14.4px "DejaVu Sans"', fill: '#e8ebef', verticalAlign: 'middle'}},
    {type: 'text', silent: true, x: 1794, y: 1235, style: {text: 'Daten: NOAA/NCEP (GEFS) – Lauf: 06.10.2026 12z', font: 'bold 14.2px "DejaVu Sans"', fill: '#c4cad3', align: 'right', verticalAlign: 'middle'}}
  ],
  series: series
};
const chart = echarts.init(document.getElementById('chart'), null, {renderer: 'canvas', width: 1824, height: 1290});
chart.setOption(option);
</script></body></html>
